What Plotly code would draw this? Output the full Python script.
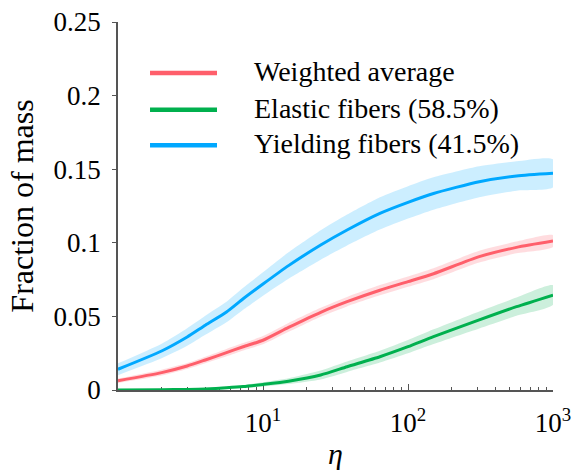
import plotly.graph_objects as go

# ---- data ----
eta = [1, 2, 3, 4, 5.6, 7.3, 10, 15, 25, 38, 64, 100, 150, 310, 560, 1000]

weighted = [0.0063, 0.0118, 0.0163, 0.0204, 0.0254, 0.0294, 0.0338, 0.0425,
            0.0528, 0.0600, 0.0678, 0.0736, 0.0790, 0.0906, 0.0969, 0.1012]
weighted_spread = [0.0015, 0.002, 0.002, 0.0022, 0.0025, 0.0025, 0.0028, 0.003,
                   0.003, 0.0032, 0.0035, 0.0035, 0.0037, 0.004, 0.004, 0.004]

elastic = [0.0, 0.0002, 0.0004, 0.0007, 0.0015, 0.0023, 0.0038, 0.0060,
           0.0102, 0.0158, 0.0226, 0.0294, 0.0362, 0.0476, 0.0566, 0.0645]
elastic_spread = [0.0, 0.0002, 0.0003, 0.0005, 0.0008, 0.001, 0.0015, 0.002,
                  0.003, 0.0035, 0.004, 0.0045, 0.005, 0.0058, 0.0062, 0.0066]

yielding = [0.0141, 0.0265, 0.0360, 0.0440, 0.0530, 0.0620, 0.0720, 0.0845,
            0.0985, 0.1087, 0.1200, 0.1275, 0.1335, 0.1415, 0.1454, 0.1472]
yielding_spread = [0.004, 0.005, 0.006, 0.0065, 0.007, 0.0075, 0.008, 0.009,
                   0.010, 0.0105, 0.011, 0.011, 0.011, 0.0105, 0.010, 0.0095]

series_names = ["Weighted average", "Elastic fibers (58.5%)", "Yielding fibers (41.5%)"]

x_tickvals = [10, 100, 1000]
x_ticktext = ["10<sup>1</sup>", "10<sup>2</sup>", "10<sup>3</sup>"]
x_minor = [2, 3, 4, 5, 6, 7, 8, 9, 20, 30, 40, 50, 60, 70, 80, 90,
           200, 300, 400, 500, 600, 700, 800, 900]
y_tickvals = [0, 0.05, 0.1, 0.15, 0.2, 0.25]
y_ticktext = ["0", "0.05", "0.1", "0.15", "0.2", "0.25"]

# ---- styles ----
FONT = "Liberation Serif, Times New Roman, serif"
line_colors = ["#FF5F6B", "#00B04E", "#00A8FF"]
band_colors = ["rgba(255,95,110,0.22)", "rgba(0,176,80,0.20)", "rgba(0,168,255,0.20)"]

fig = go.Figure()

series = [(weighted, weighted_spread), (elastic, elastic_spread), (yielding, yielding_spread)]

for (vals, spr), bc in zip(series, band_colors):
    upper = [v + s for v, s in zip(vals, spr)]
    lower = [max(v - s, 0) for v, s in zip(vals, spr)]
    fig.add_trace(go.Scatter(
        x=eta + eta[::-1], y=upper + lower[::-1],
        fill="toself", fillcolor=bc, line=dict(width=0, shape="spline", smoothing=0.6),
        mode="lines", hoverinfo="skip", showlegend=False))

for (vals, spr), lc, name in zip(series, line_colors, series_names):
    fig.add_trace(go.Scatter(
        x=eta, y=vals, mode="lines", name=name,
        line=dict(color=lc, width=3, shape="spline", smoothing=0.6), showlegend=False))

# manual legend (long line samples as in the reference)
legend_y = [0.8614, 0.7617, 0.6649]
for ly, lc, name in zip(legend_y, line_colors, series_names):
    fig.add_shape(type="line", xref="paper", yref="paper",
                  x0=0.0736, x1=0.2276, y0=ly, y1=ly,
                  line=dict(color=lc, width=4.5))
    fig.add_annotation(xref="paper", yref="paper", x=0.308, y=ly + 0.004,
                       xanchor="left", yanchor="middle", text=name,
                       showarrow=False, font=dict(family=FONT, size=28, color="#000"))

fig.update_layout(
    width=583, height=473,
    margin=dict(l=118, r=30, t=22, b=83, autoexpand=False),
    plot_bgcolor="white",
    font=dict(family=FONT, color="#000"),
    showlegend=False,
)

fig.update_xaxes(
    type="log", range=[0, 3], automargin=False,
    tickmode="array", tickvals=x_tickvals, ticktext=x_ticktext,
    ticks="inside", ticklen=6, tickwidth=1.3, tickcolor="#555",
    minor=dict(tickmode="array", tickvals=x_minor, ticks="inside",
               ticklen=3, tickwidth=1, tickcolor="#555", showgrid=False),
    showline=True, linecolor="#555", linewidth=1.5,
    showgrid=False, zeroline=False,
    tickfont=dict(family=FONT, size=27, color="#000"),
    ticklabelstandoff=8,
    title=dict(text="<i>η</i>", font=dict(family=FONT, size=30, color="#000"), standoff=6),
    layer="below traces",
)

fig.update_yaxes(
    range=[0, 0.25], automargin=False,
    tickmode="array", tickvals=y_tickvals, ticktext=y_ticktext,
    ticks="outside", ticklen=4, tickwidth=1.3, tickcolor="#555",
    showline=True, linecolor="#555", linewidth=1.5,
    showgrid=False, zeroline=False,
    tickfont=dict(family=FONT, size=27, color="#000"),
    ticklabelstandoff=6,
    title=dict(text="Fraction of mass", font=dict(family=FONT, size=32, color="#000"), standoff=10),
    layer="below traces",
)

post = (
    "document.body.style.margin='0';"
    "var s=document.createElement('style');"
    "s.textContent='.js-plotly-plot svg text, .js-plotly-plot svg tspan"
    "{font-family:\"Liberation Serif\",\"Times New Roman\",serif !important;}';"
    "document.head.appendChild(s);"
)
fig.write_html("out.html", config={"displayModeBar": False}, post_script=post)
